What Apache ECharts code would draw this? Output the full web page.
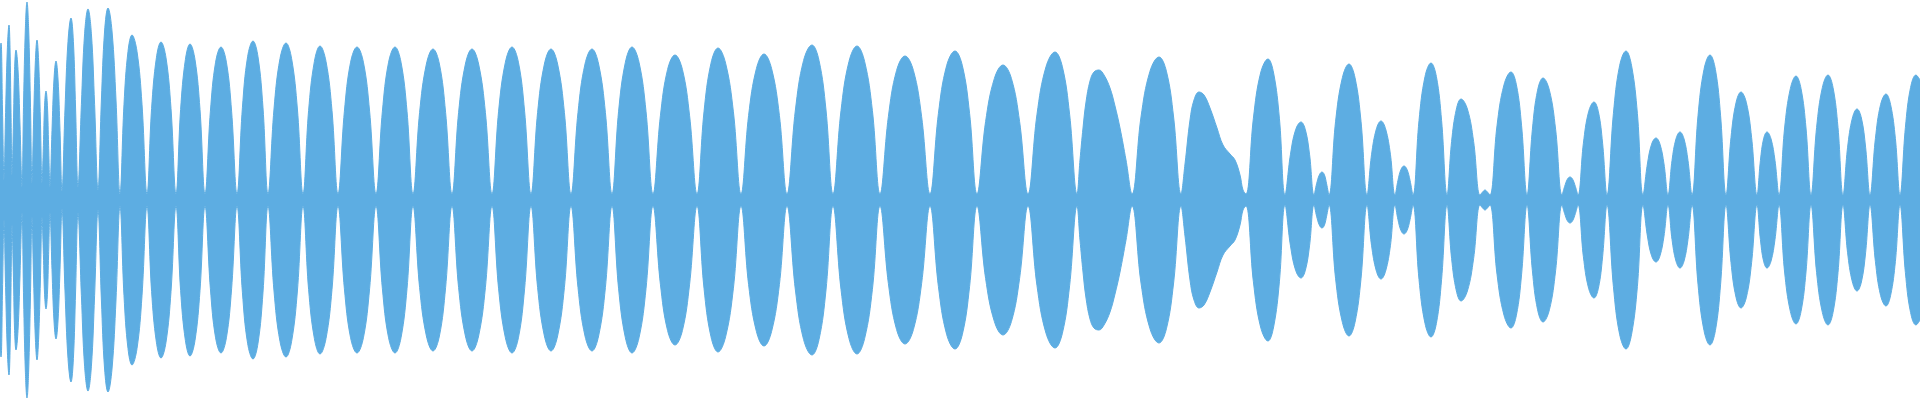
<!DOCTYPE html>
<html>
<head>
<meta charset="utf-8">
<script src="https://cdn.jsdelivr.net/npm/echarts@6/dist/echarts.min.js"></script>
<style>
  html, body { margin: 0; padding: 0; background: #ffffff; }
  #chart { width: 1920px; height: 400px; }
</style>
</head>
<body>
<div id="chart"></div>
<script>
// Waveform envelope: [time (ms), amplitude (%)]
const envelope = [
  [0, 75], [0.5, 78.5], [1.25, 45], [2, 10],
  [2.8, 43.8], [3.7, 76.1], [4.5, 87.5], [5, 76.1], [5.5, 43.8], [6, 12.5],
  [6.7, 37.5], [7.3, 65.3], [8, 75], [9, 65.3], [10, 37.5], [11, 6.5],
  [11.8, 49.5], [12.7, 86.1], [13.5, 99], [14.3, 86.1], [15.2, 49.5], [16, 8.5],
  [16.8, 40], [17.7, 69.6], [18.5, 80], [19.3, 69.6], [20.2, 40], [21, 8.5],
  [21.7, 27.3], [22.3, 47.4], [23, 54.5], [23.7, 47.4], [24.3, 27.3], [25, 6.5],
  [26, 34.8], [27, 60.5], [28, 69.5], [29, 60.5], [30, 34.8], [31, 4.5],
  [32.5, 45.5], [34, 79.2], [35.5, 91], [36.7, 79.2], [37.8, 45.5], [39, 6.5],
  [40.7, 47.8], [42.3, 83.1], [44, 95.5], [45.7, 83.1], [47.3, 47.8], [49, 5],
  [50.7, 50], [52.3, 84.5], [54, 96], [56, 84.5], [58, 50], [60, 3],
  [62, 47.9], [64, 74.3], [66, 82.5], [68.5, 74.3], [71, 47.9], [73.5, 3],
  [75.8, 45.8], [78.2, 71.1], [80.5, 79], [83, 71.1], [85.5, 45.8], [88, 3],
  [90.3, 45.2], [92.7, 70.2], [95, 78], [97.5, 70.2], [100, 45.2], [102.5, 3],
  [105.2, 44.4], [107.8, 68.9], [110.5, 76.5], [113.2, 68.9], [115.8, 44.4], [118.5, 3],
  [121.2, 46.1], [123.8, 71.6], [126.5, 79.5], [129, 71.6], [131.5, 46.1], [134, 3],
  [137, 45.5], [140, 70.7], [143, 78.5], [145.8, 70.7], [148.7, 45.5], [151.5, 3],
  [154.3, 44.7], [157.2, 69.3], [160, 77], [163, 69.3], [166, 44.7], [169, 3],
  [172.2, 44.4], [175.3, 68.9], [178.5, 76.5], [181.7, 68.9], [184.8, 44.4], [188, 3],
  [191.2, 44.4], [194.3, 68.9], [197.5, 76.5], [200.5, 68.9], [203.5, 44.4], [206.5, 3],
  [209.8, 43.8], [213.2, 68], [216.5, 75.5], [219.7, 68], [222.8, 43.8], [226, 3],
  [229.3, 43.8], [232.7, 68], [236, 75.5], [239.3, 68], [242.7, 43.8], [246, 3],
  [249.3, 44.4], [252.7, 68.9], [256, 76.5], [259.2, 68.9], [262.3, 44.4], [265.5, 3],
  [268.8, 43.8], [272.2, 68], [275.5, 75.5], [278.8, 68], [282.2, 43.8], [285.5, 3],
  [289, 43.8], [292.5, 68], [296, 75.5], [299.3, 68], [302.7, 43.8], [306, 3],
  [309.3, 44.4], [312.7, 68.9], [316, 76.5], [319.5, 68.9], [323, 44.4], [326.5, 3],
  [330.2, 42.1], [333.8, 65.3], [337.5, 72.5], [341.2, 65.3], [344.8, 42.1], [348.5, 3],
  [352, 44.1], [355.5, 68.4], [359, 76], [362.8, 68.4], [366.7, 44.1], [370.5, 3],
  [374.3, 42.3], [378.2, 65.7], [382, 73], [385.8, 65.7], [389.7, 42.3], [393.5, 3],
  [397.7, 45], [401.8, 69.8], [406, 77.5], [409.5, 69.8], [413, 45], [416.5, 3],
  [420.5, 44.7], [424.5, 69.3], [428.5, 77], [432.3, 69.3], [436.2, 44.7], [440, 3],
  [444.2, 41.8], [448.3, 64.8], [452.5, 72], [456.7, 64.8], [460.8, 41.8], [465, 3],
  [469.2, 43.2], [473.3, 67.1], [477.5, 74.5], [481.2, 67.1], [484.8, 43.2], [488.5, 3],
  [492.8, 39.2], [497.2, 60.8], [501.5, 67.5], [505.7, 60.8], [509.8, 39.2], [514, 3],
  [518.5, 42.9], [523, 66.6], [527.5, 74], [531.2, 66.6], [534.8, 42.9], [538.5, 3],
  [540, 20], [541.5, 36], [543, 49], [545, 59.5], [547, 64], [549.5, 65], [552, 62.5],
  [555, 56], [557.5, 47], [560, 36], [563, 20], [566, 3],
  [570.5, 41.5], [575, 64.4], [579.5, 71.5], [583.2, 64.4], [586.8, 41.5], [590.5, 3],
  [592.5, 18], [595, 40], [597, 50], [599.5, 54], [602, 52.5], [605, 46], [608.5, 36],
  [611.5, 27.5], [615, 23], [617.5, 20], [620, 12.5], [621.5, 5], [623, 3],
  [626.7, 40.9], [630.3, 63.5], [634, 70.5], [636.8, 63.5], [639.7, 40.9], [642.5, 2.5],
  [645.2, 22.6], [647.8, 35.1], [650.5, 39], [652.7, 35.1], [654.8, 22.6], [657, 2.5],
  [658.3, 8.1], [659.7, 12.6], [661, 14], [662.2, 12.6], [663.3, 8.1], [664.5, 2.5],
  [667.8, 39.4], [671.2, 61.2], [674.5, 68], [677.5, 61.2], [680.5, 39.4], [683.5, 2.5],
  [685.8, 22.9], [688.2, 35.6], [690.5, 39.5], [692.8, 35.6], [695.2, 22.9], [697.5, 2.5],
  [699, 9.9], [700.5, 15.3], [702, 17], [703.5, 15.3], [705, 9.9], [706.5, 2.5],
  [709.5, 39.7], [712.5, 61.7], [715.5, 68.5], [718.2, 61.7], [720.8, 39.7], [723.5, 2.5],
  [725.8, 29.3], [728.2, 45.5], [730.5, 50.5], [733.7, 45.5], [736.8, 29.3], [740, 2.5],
  [741.3, 4], [742.5, 5], [743.7, 4], [745, 2.5],
  [748.5, 37.1], [752, 57.6], [755.5, 64], [758.2, 57.6], [760.8, 37.1], [763.5, 2.5],
  [766.2, 35.4], [768.8, 54.9], [771.5, 61], [774.7, 54.9], [777.8, 35.4], [781, 2.5],
  [782.3, 6.7], [783.7, 10.4], [785, 11.5], [786.3, 10.4], [787.7, 6.7], [789, 2.5],
  [791.7, 28.4], [794.3, 44.1], [797, 49], [799.2, 44.1], [801.3, 28.4], [803.5, 2.5],
  [806.7, 43.2], [809.8, 67.1], [813, 74.5], [815.8, 67.1], [818.7, 43.2], [821.5, 2.5],
  [823.7, 18], [825.8, 27.9], [828, 31], [830, 27.9], [832, 18], [834, 2.5],
  [836, 19.7], [838, 30.6], [840, 34], [842, 30.6], [844, 19.7], [846, 2.5],
  [849, 42.1], [852, 65.3], [855, 72.5], [857.7, 65.3], [860.3, 42.1], [863, 2.5],
  [865.5, 31.3], [868, 48.6], [870.5, 54], [873.2, 48.6], [875.8, 31.3], [878.5, 2.5],
  [880.2, 19.7], [881.8, 30.6], [883.5, 34], [885.5, 30.6], [887.5, 19.7], [889.5, 2.5],
  [892.3, 36], [895.2, 55.8], [898, 62], [900.5, 55.8], [903, 36], [905.5, 2.5],
  [908.3, 36.3], [911.2, 56.3], [914, 62.5], [916.5, 56.3], [919, 36.3], [921.5, 2.5],
  [923.8, 26.4], [926.2, 41], [928.5, 45.5], [930.7, 41], [932.8, 26.4], [935, 2.5],
  [937.7, 30.7], [940.3, 47.7], [943, 53], [945.3, 47.7], [947.7, 30.7], [950, 2.5],
  [952.7, 36.3], [955.3, 56.3], [958, 62.5], [960, 60]
];

const timeRange = [0, 960];
const ampRange = [-100, 100];
const waveColor = '#5dade2';

const upper = envelope.map(p => [p[0], p[1]]);
const lower = envelope.map(p => [p[0], -p[1]]);

const chart = echarts.init(document.getElementById('chart'), null, { renderer: 'canvas' });
const common = {
  type: 'line',
  showSymbol: false,
  symbol: 'none',
  smooth: 0.4,
  lineStyle: { width: 1, color: waveColor },
  areaStyle: { color: waveColor, opacity: 1 },
  itemStyle: { color: waveColor },
  silent: true
};
chart.setOption({
  animation: false,
  backgroundColor: '#ffffff',
  grid: { left: 0, right: 0, top: 0, bottom: 0 },
  xAxis: { type: 'value', min: timeRange[0], max: timeRange[1], show: false },
  yAxis: { type: 'value', min: ampRange[0], max: ampRange[1], show: false },
  series: [
    Object.assign({ name: 'upper', data: upper }, common),
    Object.assign({ name: 'lower', data: lower }, common)
  ]
});
</script>
</body>
</html>
